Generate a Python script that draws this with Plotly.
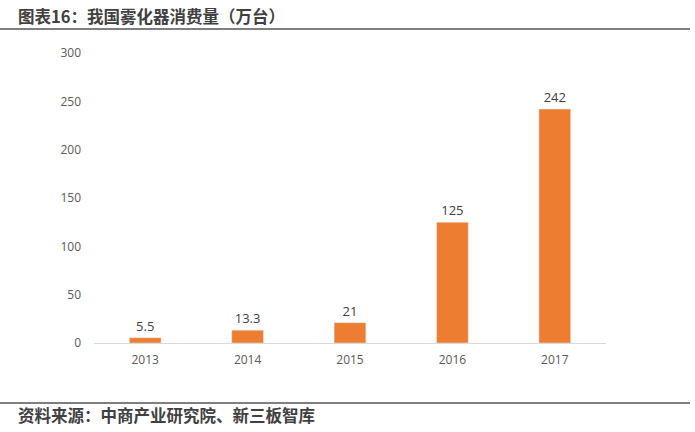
import plotly.graph_objects as go

years = ["2013", "2014", "2015", "2016", "2017"]
values = [5.5, 13.3, 21, 125, 242]
labels = ["5.5", "13.3", "21", "125", "242"]
title_text = "图表16：我国雾化器消费量（万台）"
source_text = "资料来源：中商产业研究院、新三板智库"

W, H = 695, 432
ml, mt = 94, 53
mr = W - 606
mb = H - 343
pw, ph = W - ml - mr, H - mt - mb

def px(x):
    return (x - ml) / pw

def py(y):
    return (H - mb - y) / ph

fig = go.Figure(go.Bar(
    x=years, y=values, text=labels, textposition="outside",
    marker_color="#ED7D31", width=0.31,
    textfont=dict(family="Open Sans, Noto Sans, sans-serif", size=13, color="#404040"),
    cliponaxis=False,
))

fig.update_layout(
    width=W, height=H, margin=dict(l=ml, r=mr, t=mt, b=mb),
    plot_bgcolor="white", paper_bgcolor="white", showlegend=False,
    xaxis=dict(showgrid=False, showline=True, linecolor="#D9D9D9", linewidth=1,
               ticks="", ticklabelstandoff=6,
               tickfont=dict(family="Open Sans, Noto Sans, sans-serif", size=12, color="#595959")),
    yaxis=dict(range=[0, 300], dtick=50, showgrid=False, zeroline=False, showline=False,
               ticks="", ticklabelstandoff=12,
               tickfont=dict(family="Open Sans, Noto Sans, sans-serif", size=12, color="#595959")),
    font=dict(family="Noto Sans CJK SC"),
)

fig.add_shape(type="line", xref="paper", yref="paper", x0=px(0), x1=px(690),
              y0=py(29), y1=py(29), line=dict(color="#000000", width=1.2))
fig.add_shape(type="line", xref="paper", yref="paper", x0=px(0), x1=px(690),
              y0=py(403), y1=py(403), line=dict(color="#000000", width=1.2))

fig.add_annotation(xref="paper", yref="paper", x=px(17), y=py(16), xanchor="left", yanchor="middle",
                   text="<b>" + title_text + "</b>", showarrow=False, borderpad=0,
                   font=dict(family="Noto Sans CJK SC", size=16.5, color="#404040"))
fig.add_annotation(xref="paper", yref="paper", x=px(17), y=py(415), xanchor="left", yanchor="middle",
                   text="<b>" + source_text + "</b>", showarrow=False, borderpad=0,
                   font=dict(family="Noto Sans CJK SC", size=16.5, color="#404040"))

fig.write_html("out.html", config={"displayModeBar": False},
               post_script="document.body.style.margin='0';document.body.style.overflow='hidden';")
